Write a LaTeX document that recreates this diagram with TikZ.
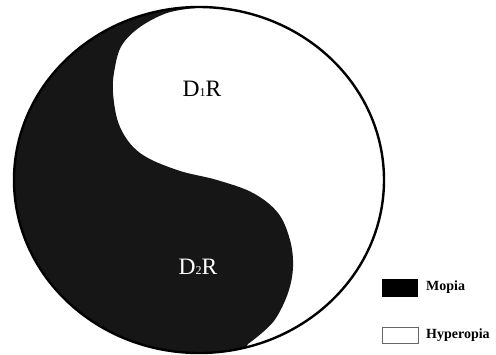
\documentclass[tikz,border=0pt]{standalone}
\usepackage{fontspec}
\setmainfont{Liberation Serif}
\definecolor{ink}{RGB}{22,22,22}
\begin{document}
\begin{tikzpicture}[x=1pt,y=-1pt,
  lbl/.style={inner sep=0pt,font=\fontsize{23.5}{24}\selectfont},
  legbox/.style={minimum width=36pt,minimum height=18pt,inner sep=0pt},
  legtxt/.style={anchor=west,inner sep=0pt,font=\fontsize{14}{14}\selectfont\bfseries}]
\useasboundingbox (0,0) rectangle (496,354);
\fill[white] (0,0) rectangle (496,354);
\begin{scope}
  \clip (199,180) ellipse [x radius=185, y radius=173];
  \fill[ink] (195,-5) -- plot[smooth, tension=0.6] coordinates {
    (195,8) (167,13) (140,27) (122,45) (115,67) (113,93) (120,127) (140,153) (177,170)
    (217,180) (253,193) (278,213) (290,240) (293,267) (288,293) (276,318) (263,332) (248,344)}
    -- (238,360) -- (-5,360) -- (-5,-5) -- cycle;
\end{scope}
\draw[line width=2.4pt] (199,180) ellipse [x radius=185, y radius=173];
\node[lbl,text=black] (d1) at (202,89) {D{\fontsize{12}{12}\selectfont 1}R};
\node[lbl,text=white] (d2) at (198,267) {D{\fontsize{12}{12}\selectfont 2}R};
\node[legbox,fill=black] (lm) at (400,287.5) {};
\node[legbox,draw=gray!80!black,line width=1pt,minimum height=16pt] (lh) at (400,335) {};
\node[legtxt] (tm) at (426,287) {Mopia};
\node[legtxt] (th) at (426,335) {Hyperopia};
\end{tikzpicture}
\end{document}
